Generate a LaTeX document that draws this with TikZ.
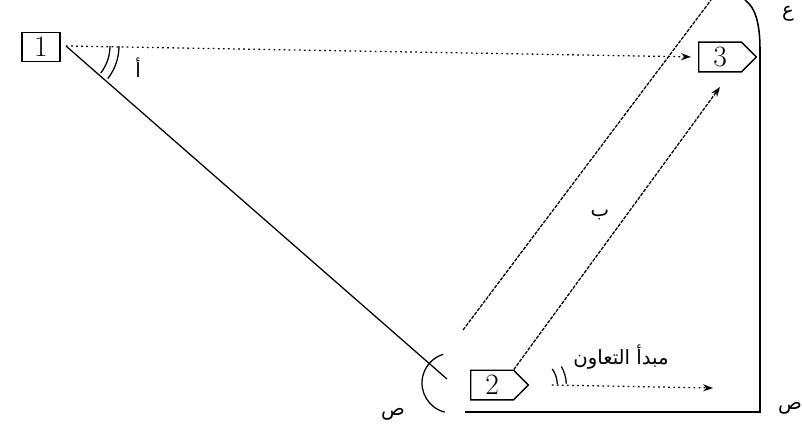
\documentclass[tikz,border=0pt]{standalone}
\usepackage{fontspec}
\newfontfamily\arabicfont[Script=Arabic]{DejaVu Sans}
\TeXXeTstate=1
\usetikzlibrary{positioning, arrows.meta, shapes.symbols}
\tikzset{
  caixa/.style={draw, line width=1pt, inner sep=0pt, minimum width=0.95cm, minimum height=0.72cm, font=\fontsize{21}{23}\selectfont},
  etiqueta/.style={draw, line width=1pt, signal, signal to=east, signal pointer angle=90, inner sep=0pt, minimum height=0.74cm, font=\fontsize{21}{23}\selectfont},
  tracejado/.style={line width=0.9pt, dash pattern=on 2.5pt off 0.9pt},
  pontilhado/.style={line width=0.9pt, dash pattern=on 1.2pt off 2.4pt},
  rotulo/.style={font=\arabicfont\fontsize{14}{16}\selectfont, inner sep=0pt},
  ponta/.style={-{Stealth[length=7pt, width=5pt]}}
}

\begin{document}
\begin{tikzpicture}[x=0.025cm, y=-0.025cm, line width=0.9pt]
  \useasboundingbox (0,0) rectangle (802,430);
  % caixas
  \node[caixa] (um) at (41,47) {1};
  \node[etiqueta, anchor=west] (tres) at (698,57) {\makebox[1.07cm]{3}};
  \node[etiqueta, anchor=west] (dois) at (470,385) {\makebox[1.07cm]{2}};
  % pontos livres
  \coordinate (o1) at (66,46);
  \coordinate (fimA) at (447,379);
  \coordinate (baseB) at (463,330);
  \coordinate (topoB) at (711,0);
  \coordinate (pontaC) at (720,87);
  \coordinate (pontaD) at (713,388);
  \coordinate (arcoTopo) at (745,0);
  \coordinate (canto) at (760,412);
  \coordinate (baseE) at (465,412);
  \coordinate (centroS) at (452,383);
  % linhas
  \draw[pontilhado, ponta, shorten >=5] (o1) -- (tres.west);
  \draw (o1) -- (fimA);
  \draw[tracejado] (baseB) -- (topoB);
  \draw[tracejado, ponta] (dois.north east) -- (pontaC);
  \draw[pontilhado, ponta] ([xshift=16]dois.east) -- (pontaD);
  \draw[line width=1.1pt] (arcoTopo) .. controls (756,8) and (760,25) .. (760,50) -- (canto) -- (baseE);
  % angulos
  \draw ([shift={(0:44)}]o1) arc[start angle=0, end angle=38, radius=44];
  \draw ([shift={(0:53)}]o1) arc[start angle=0, end angle=38, radius=53];
  \draw ([shift={(104:30)}]centroS) arc[start angle=104, end angle=253, radius=30];
  \draw ([shift={(-2:28)}]dois.east) arc[start angle=-2, end angle=-35, radius=28];
  \draw ([shift={(-2:37)}]dois.east) arc[start angle=-2, end angle=-30, radius=37];
  % rotulos
  \node[rotulo] (alef) at (138,68) {\beginR أ\endR};
  \node[rotulo] (ba) at (600,215) {\beginR ب\endR};
  \node[rotulo] (sad1) at (393,414) {\beginR ص\endR};
  \node[rotulo] (sad2) at (790,408) {\beginR ص\endR};
  \node[rotulo] (ain) at (788,14) {\beginR ع\endR};
  \node[rotulo] (principio) at (621,357) {\beginR مبدأ التعاون\endR};
\end{tikzpicture}
\end{document}
